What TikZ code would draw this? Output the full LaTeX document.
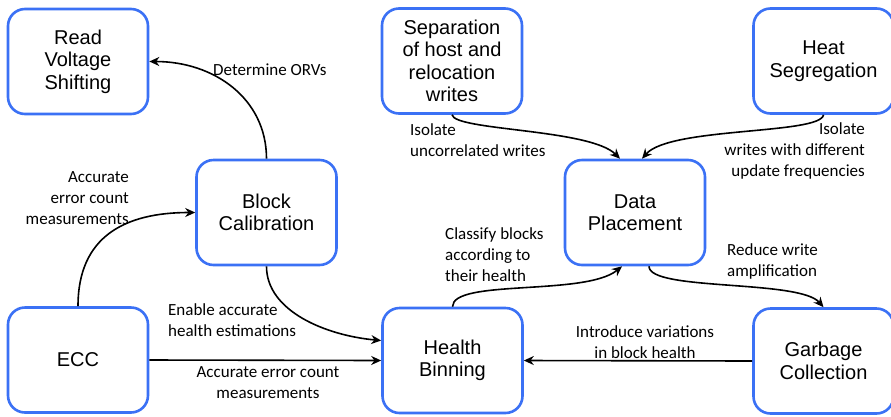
\documentclass[tikz,border=0pt]{standalone}
\usepackage{fontspec}
\setmainfont{Liberation Sans}
\newfontfamily\lblfont{Carlito}
\usetikzlibrary{arrows.meta,calc}
\definecolor{boxblue}{RGB}{59,113,245}
\begin{document}
\begin{tikzpicture}[x=1pt,y=-1pt,
  stage/.style={draw=boxblue, line width=2.6pt, rounded corners=17pt,
    minimum width=140pt, minimum height=105pt, align=center,
    font=\fontsize{20}{22.5}\selectfont, fill=white, inner sep=0pt},
  lbl/.style={font=\lblfont\fontsize{17}{21}\selectfont, inner sep=0pt, text=black},
  arr/.style={draw=black, line width=1.6pt, -{Stealth[length=10pt,width=9pt]}}]
\useasboundingbox (0,0) rectangle (891,416);

% stages
\node[stage] (rvs)  at (78,61.5)    {Read\\Voltage\\Shifting};
\node[stage] (sep)  at (452,61)     {Separation\\of host and\\relocation\\writes};
\node[stage] (heat) at (823.5,61)   {Heat\\Segregation};
\node[stage] (bc)   at (266.5,212.5){Block\\Calibration};
\node[stage] (dp)   at (635,212.5)  {Data\\Placement};
\node[stage] (ecc)  at (78,360)     {ECC};
\node[stage] (hb)   at (452.5,360.5){Health\\Binning};
\node[stage] (gc)   at (823.5,361)  {Garbage\\Collection};

% connectors
\draw[arr] (bc.north) .. controls +(0,-60) and +(65,0) .. (rvs.east);
\draw[arr] (ecc.north) .. controls +(0,-70) and +(-70,0) .. (bc.west);
\draw[arr] (bc.south) .. controls +(0,45) and +(-55,-5) .. ($(hb.west)+(0,-20)$);
\draw[arr] (ecc.east) -- (hb.west);
\draw[arr] (hb.north) .. controls +(0,-28) and +(-37,30) .. ($(dp.south)+(-13,0)$);
\draw[arr] ($(dp.south)+(14,0)$) .. controls +(0,25) and +(-24,-28) .. (gc.north);
\draw[arr] (gc.west) -- (hb.east);
\draw[arr] (sep.south) .. controls +(3,16) and +(-30,-30) .. ($(dp.north)+(-15,0)$);
\draw[arr] (heat.south) .. controls +(-3,20) and +(28,-32) .. ($(dp.north)+(7,0)$);

% connector labels
\node[lbl, anchor=west] (l1) at (213,70) {Determine ORVs};
\node[lbl, anchor=east, align=right] (l2) at (129,198) {Accurate\\error count\\measurements};
\node[lbl, anchor=west, align=left] (l3) at (168,320) {Enable accurate\\health estimations};
\node[lbl, align=center] (l4) at (268,383) {Accurate error count\\measurements};
\node[lbl, anchor=west, align=left] (l5) at (445,255) {Classify blocks\\according to\\their health};
\node[lbl, anchor=west, align=left] (l6) at (727,261) {Reduce write\\amplification};
\node[lbl, align=center] (l7) at (645,342) {Introduce variations\\in block health};
\node[lbl, anchor=west, align=left] (l8) at (410,140) {Isolate\\uncorrelated writes};
\node[lbl, anchor=east, align=right] (l9) at (865,151) {Isolate\\writes with different\\update frequencies};
\end{tikzpicture}
\end{document}
